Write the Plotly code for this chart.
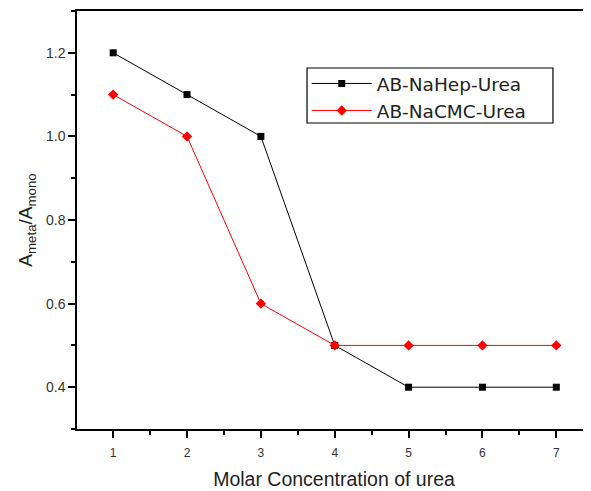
import plotly.graph_objects as go

conc = [1, 2, 3, 4, 5, 6, 7]
nahep = [1.2, 1.1, 1.0, 0.5, 0.4, 0.4, 0.4]
nacmc = [1.1, 1.0, 0.6, 0.5, 0.5, 0.5, 0.5]

FONT = "Liberation Sans, Arial"

fig = go.Figure()
fig.add_trace(go.Scatter(x=conc, y=nahep, mode="lines+markers", name="AB-NaHep-Urea",
                         line=dict(color="black", width=1),
                         marker=dict(symbol="square", size=7, color="black")))
fig.add_trace(go.Scatter(x=conc, y=nacmc, mode="lines+markers", name="AB-NaCMC-Urea",
                         line=dict(color="red", width=1),
                         marker=dict(symbol="diamond", size=8, color="red")))

# legend frame
fig.add_shape(type="rect", xref="paper", yref="paper", x0=0.4475, x1=0.926, y0=0.732, y1=0.8636,
              line=dict(color="black", width=1.2), fillcolor="white", layer="below")

axis_common = dict(showgrid=False, zeroline=False, showline=True, linecolor="black", linewidth=1.5,
                   ticks="outside", tickcolor="black", ticklen=7, tickwidth=1.5)
fig.update_layout(
    width=583, height=483,
    margin=dict(l=69, r=0, t=3, b=62, autoexpand=False),
    plot_bgcolor="white", paper_bgcolor="white",
    font=dict(family=FONT, color="#222"),
    xaxis=dict(range=[0.51, 7.47], tickvals=conc, mirror=True, ticklabelstandoff=5,
               tickfont=dict(family=FONT, size=12, color="#333"),
               minor=dict(ticks="outside", dtick=0.5, tick0=0.5, ticklen=4, tickcolor="black"),
               title=dict(text="Molar Concentration of urea", font=dict(size=19.5), standoff=13),
               **axis_common),
    yaxis=dict(range=[0.3, 1.3], tickvals=[0.4, 0.6, 0.8, 1.0, 1.2], tickformat=".1f",
               tickfont=dict(family=FONT, size=14, color="#333"),
               minor=dict(ticks="outside", dtick=0.1, tick0=0.3, ticklen=4, tickcolor="black"),
               title=dict(text="A<sub>meta</sub>/A<sub>mono</sub>", font=dict(size=19), standoff=8),
               **axis_common),
    legend=dict(x=0.447, y=0.871, xanchor="left", yanchor="top",
                borderwidth=0, bgcolor="rgba(0,0,0,0)",
                font=dict(size=18.5, family="DejaVu Sans", color="#222"),
                tracegroupgap=0, itemwidth=60),
    showlegend=True,
)
fig.write_html("out.html")
